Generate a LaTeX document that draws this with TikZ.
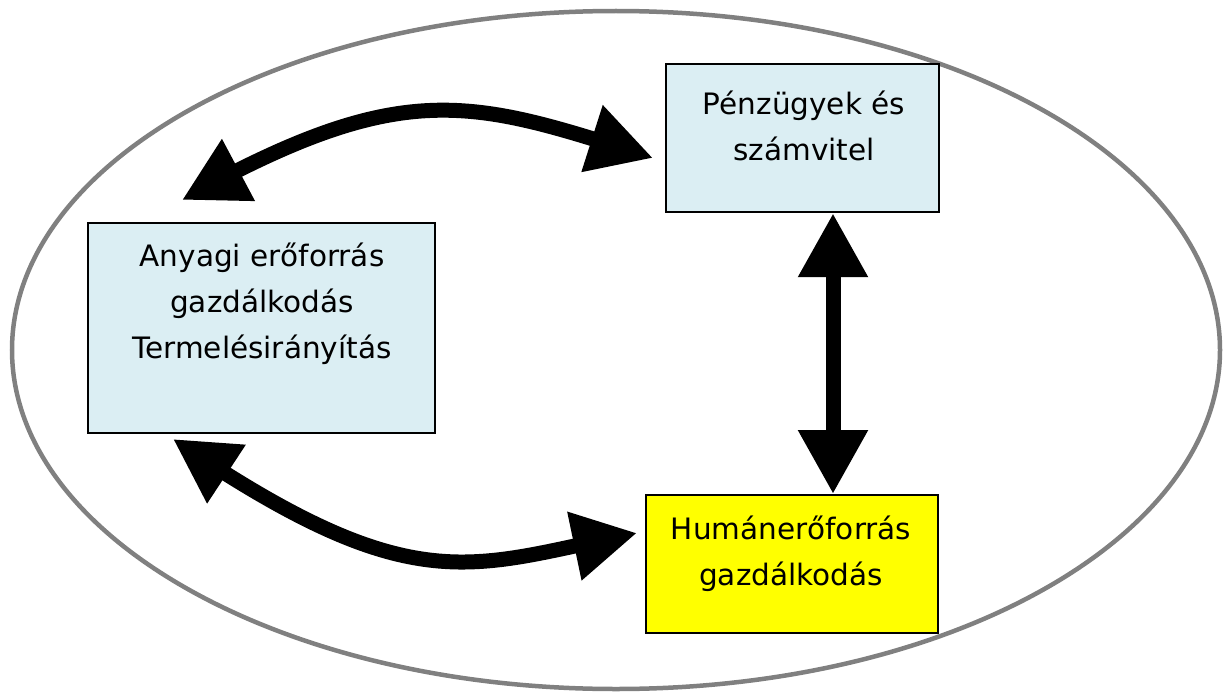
\documentclass[tikz,border=0pt]{standalone}
\usepackage{fontspec}
\setmainfont{DejaVu Sans}
\usetikzlibrary{arrows.meta,shapes.geometric,bending}
\definecolor{boxblue}{HTML}{DBEEF3}
\definecolor{ringgray}{HTML}{808080}
\definecolor{boxyellow}{HTML}{FFFF00}
\tikzset{
  box/.style={draw=black, line width=2.2pt, inner sep=0pt, anchor=north west},
  lbl/.style={align=center, font=\fontsize{29.5}{46}\selectfont, inner sep=0pt, anchor=base},
  bigarrow/.style={line width=15pt, {Triangle[length=64pt,width=66pt]}-{Triangle[length=64pt,width=66pt]}},
}
\begin{document}
\begin{tikzpicture}[x=1pt,y=-1pt]
\useasboundingbox (0,0) rectangle (1224,693);
\node[draw=ringgray, line width=4.5pt, ellipse, minimum width=1208pt, minimum height=678pt, inner sep=0pt] (ring) at (616,350) {};
\node[box, fill=boxblue, minimum width=273pt, minimum height=148pt] (pen) at (665,63) {};
\node[box, fill=boxblue, minimum width=347pt, minimum height=210pt] (any) at (87,222) {};
\node[box, fill=boxyellow, minimum width=292pt, minimum height=138pt] (hum) at (645,494) {};
\node[lbl] (penT) at (804,160) {Pénzügyek és\\számvitel};
\node[lbl] (anyT) at (262,358) {Anyagi erőforrás\\gazdálkodás\\Termelésirányítás};
\node[lbl] (humT) at (791,585) {Humánerőforrás\\gazdálkodás};
\coordinate (a1) at (182,200);
\coordinate (a2) at (653,158);
\coordinate (b1) at (173,439);
\coordinate (b2) at (637,533);
\draw[bigarrow] (a1) .. controls (405,76) and (470,99) .. (a2);
\draw[bigarrow] (b1) .. controls (418,606) and (471,565) .. (b2);
\draw[bigarrow] (pen.south -| 833,0) -- (hum.north -| 833,0);
\end{tikzpicture}
\end{document}
